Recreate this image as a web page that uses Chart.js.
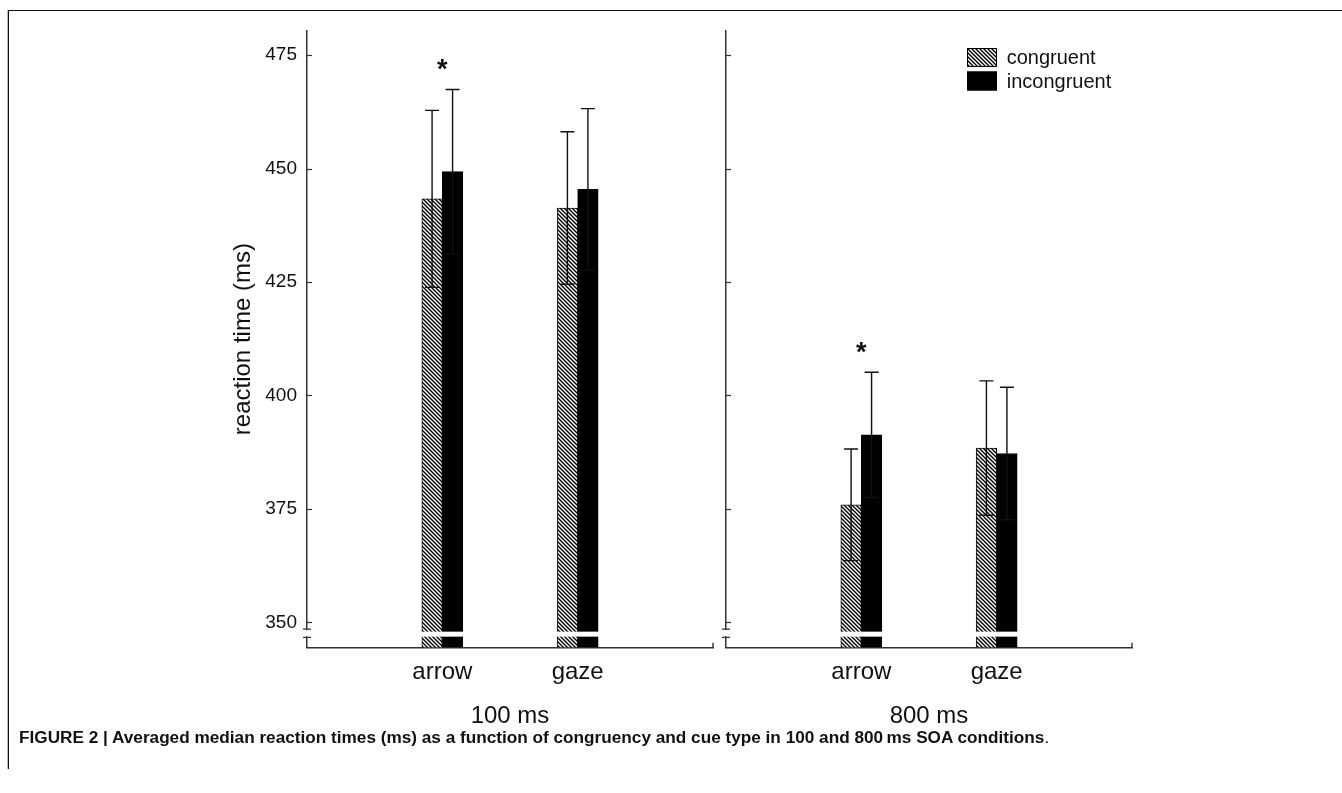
<!DOCTYPE html>
<html>
<head>
<meta charset="utf-8">
<script src="https://cdn.jsdelivr.net/npm/chart.js@4.4.1/dist/chart.umd.min.js"></script>
<style>
body { margin: 0; background: #fff; width: 1342px; height: 793px; overflow: hidden; position: relative; }
#frame { position: absolute; left: 8px; top: 10px; width: 1334px; height: 758px; border-top: 1.5px solid #111; border-left: 1.5px solid #111; box-shadow: -1px 0 0 #bbb; }
canvas { position: absolute; top: 0; }
#left { left: 0; }
#right { left: 715px; }
#caption { position: absolute; left: 19px; top: 727px; font: bold 17.2px "Liberation Sans", Arial, sans-serif; line-height: 20px; color: #111; white-space: nowrap; }
#caption span { font-weight: normal; }
</style>
</head>
<body>
<div id="frame"></div>
<canvas id="left" width="724" height="745"></canvas>
<canvas id="right" width="627" height="745"></canvas>
<div id="caption">FIGURE 2 | Averaged median reaction times (ms) as a function of congruency and cue type in 100 and 800&#8201;ms SOA conditions<span>.</span></div>
<script>
const cues = ['arrow', 'gaze']
const yTicks = [350, 375, 400, 425, 450, 475]

// 100 ms SOA
const congruent100 = [443.3, 441.3]
const incongruent100 = [449.3, 445.4]
const congruentErr100 = [19.5, 16.8]
const incongruentErr100 = [18.1, 17.8]
const significant100 = [true, false]

// 800 ms SOA
const congruent800 = [375.9, 388.4]
const incongruent800 = [391.3, 387.2]
const congruentErr800 = [12.3, 14.8]
const incongruentErr800 = [13.8, 14.6]
const significant800 = [true, false]

const family = '"Liberation Sans", Arial, sans-serif'
const ink = '#111'
const axisColor = '#333'
const breakAxis = [346.7, 348.5]
const breakBars = [346.85, 347.95]

const hatch = (() => {
    const c = document.createElement('canvas')
    c.width = 4; c.height = 4
    const g = c.getContext('2d')
    g.fillStyle = '#fff'
    g.fillRect(0, 0, 4, 4)
    g.strokeStyle = '#000'
    g.lineWidth = 1.4
    g.beginPath()
    g.moveTo(-1, -1); g.lineTo(5, 5)
    g.moveTo(-1, 3); g.lineTo(1, 5)
    g.moveTo(3, -1); g.lineTo(5, 1)
    g.stroke()
    return g.createPattern(c, 'repeat')
})()

const decor = {
    id: 'decor',
    afterDatasetsDraw(chart, args, opts) {
        const {ctx, chartArea: a, scales: {x, y}} = chart
        ctx.save()

        // white gap through the bars (axis break)
        const g1 = y.getPixelForValue(breakBars[1]), g0 = y.getPixelForValue(breakBars[0])
        ctx.fillStyle = '#fff'
        ctx.fillRect(a.left + 2, g1, a.right - a.left - 2, g0 - g1)

        // error bars
        ctx.strokeStyle = '#111'
        ctx.lineWidth = 1.4
        const tops = []
        chart.data.datasets.forEach((ds, i) => {
            chart.getDatasetMeta(i).data.forEach((bar, j) => {
                const v = ds.data[j]
                if (v == null) return
                const e = ds.err[j]
                const yt = y.getPixelForValue(v + e), yb = y.getPixelForValue(v - e)
                tops[j] = Math.min(tops[j] ?? Infinity, yt)
                ctx.beginPath()
                ctx.moveTo(bar.x, yb); ctx.lineTo(bar.x, yt)
                ctx.moveTo(bar.x - 7, yt); ctx.lineTo(bar.x + 7, yt)
                ctx.moveTo(bar.x - 7, yb); ctx.lineTo(bar.x + 7, yb)
                ctx.stroke()
            })
        })

        // significance asterisks
        ctx.fillStyle = ink
        ctx.font = 'bold 27px ' + family
        ctx.textAlign = 'center'
        ctx.textBaseline = 'alphabetic'
        opts.sig.forEach((s, j) => {
            if (!s) return
            const cx = x.getPixelForValue(j + 1)
            ctx.fillText('*', cx, tops[j + 1] - 25.5 + 14)
        })

        // inward y ticks
        ctx.strokeStyle = axisColor
        ctx.lineWidth = 1.2
        yTicks.forEach(v => {
            const py = Math.round(y.getPixelForValue(v)) + 0.5
            ctx.beginPath()
            ctx.moveTo(a.left, py); ctx.lineTo(a.left + 5, py)
            ctx.stroke()
        })

        // y axis break marks
        const m1 = y.getPixelForValue(breakAxis[1]), m0 = y.getPixelForValue(breakAxis[0])
        ctx.fillStyle = '#fff'
        ctx.fillRect(a.left - 3, m1 + 1, 6, m0 - m1 - 2)
        ctx.beginPath()
        ctx.moveTo(a.left - 4, m1); ctx.lineTo(a.left + 4, m1)
        ctx.moveTo(a.left - 4, m0); ctx.lineTo(a.left + 4, m0)
        ctx.stroke()

        // end tick of the x axis
        ctx.lineWidth = 1.4
        ctx.beginPath()
        ctx.moveTo(a.right, a.bottom - 4.5); ctx.lineTo(a.right, a.bottom)
        ctx.stroke()

        // legend
        if (opts.legend) {
            ctx.font = '20px ' + family
            ctx.textAlign = 'left'
            ctx.textBaseline = 'middle'
            chart.data.datasets.forEach((ds, i) => {
                const bx = a.right - 165, by = a.top + 17 + i * 23.5
                ctx.fillStyle = ds.backgroundColor
                ctx.fillRect(bx, by, 30, 19)
                ctx.strokeStyle = '#000'
                ctx.lineWidth = 1
                ctx.strokeRect(bx + 0.5, by + 0.5, 29, 18)
                ctx.fillStyle = ink
                ctx.fillText(ds.label, bx + 39.7, by + 10.5)
            })
        }
        ctx.restore()
    }
}

const makeChart = (id, cong, incong, congErr, incongErr, sig, title, isLeft) => {
    return new Chart(document.getElementById(id).getContext('2d'), {
        type: 'bar',
        data: {
            labels: ['', ...cues, ''],
            datasets: [{
                label: 'congruent',
                data: [null, ...cong, null],
                err: [null, ...congErr, null],
                backgroundColor: hatch,
                borderColor: '#111',
                borderWidth: 1
            }, {
                label: 'incongruent',
                data: [null, ...incong, null],
                err: [null, ...incongErr, null],
                backgroundColor: '#000',
                borderColor: '#000',
                borderWidth: 1
            }]
        },
        options: {
            responsive: false,
            animation: false,
            devicePixelRatio: 1,
            datasets: { bar: { barThickness: 20.5 } },
            // the x axis adds its tick padding (11) on both sides
            layout: { padding: { top: 31, right: isLeft ? 0 : 210, bottom: 0, left: 0 } },
            plugins: {
                legend: { display: false },
                tooltip: { enabled: false },
                decor: { legend: !isLeft, sig }
            },
            scales: {
                x: {
                    offset: false,
                    grid: { display: false, drawTicks: false },
                    border: { color: axisColor, width: 1.5 },
                    ticks: { color: ink, font: { size: 24, family }, padding: 11, maxRotation: 0, autoSkip: false },
                    title: { display: true, text: title, color: ink, font: { size: 24, family }, padding: { top: 0, bottom: 14.6 } },
                    afterFit: s => { s.height = 97.7 }
                },
                y: {
                    min: 344.5,
                    max: 480.3,
                    afterBuildTicks: s => { s.ticks = yTicks.map(v => ({ value: v })) },
                    grid: { display: false, drawTicks: false },
                    border: { color: axisColor, width: 1.5 },
                    ticks: { display: isLeft, color: ink, font: { size: 19, family }, padding: 10 },
                    title: { display: isLeft, text: 'reaction time (ms)', color: ink, font: { size: 24, family }, padding: { top: 228.6 } },
                    afterFit: s => { s.width = isLeft ? 307 : 11 }
                }
            }
        },
        plugins: [decor]
    })
}

makeChart('left', congruent100, incongruent100, congruentErr100, incongruentErr100, significant100, '100 ms', true)
makeChart('right', congruent800, incongruent800, congruentErr800, incongruentErr800, significant800, '800 ms', false)
</script>
</body>
</html>
